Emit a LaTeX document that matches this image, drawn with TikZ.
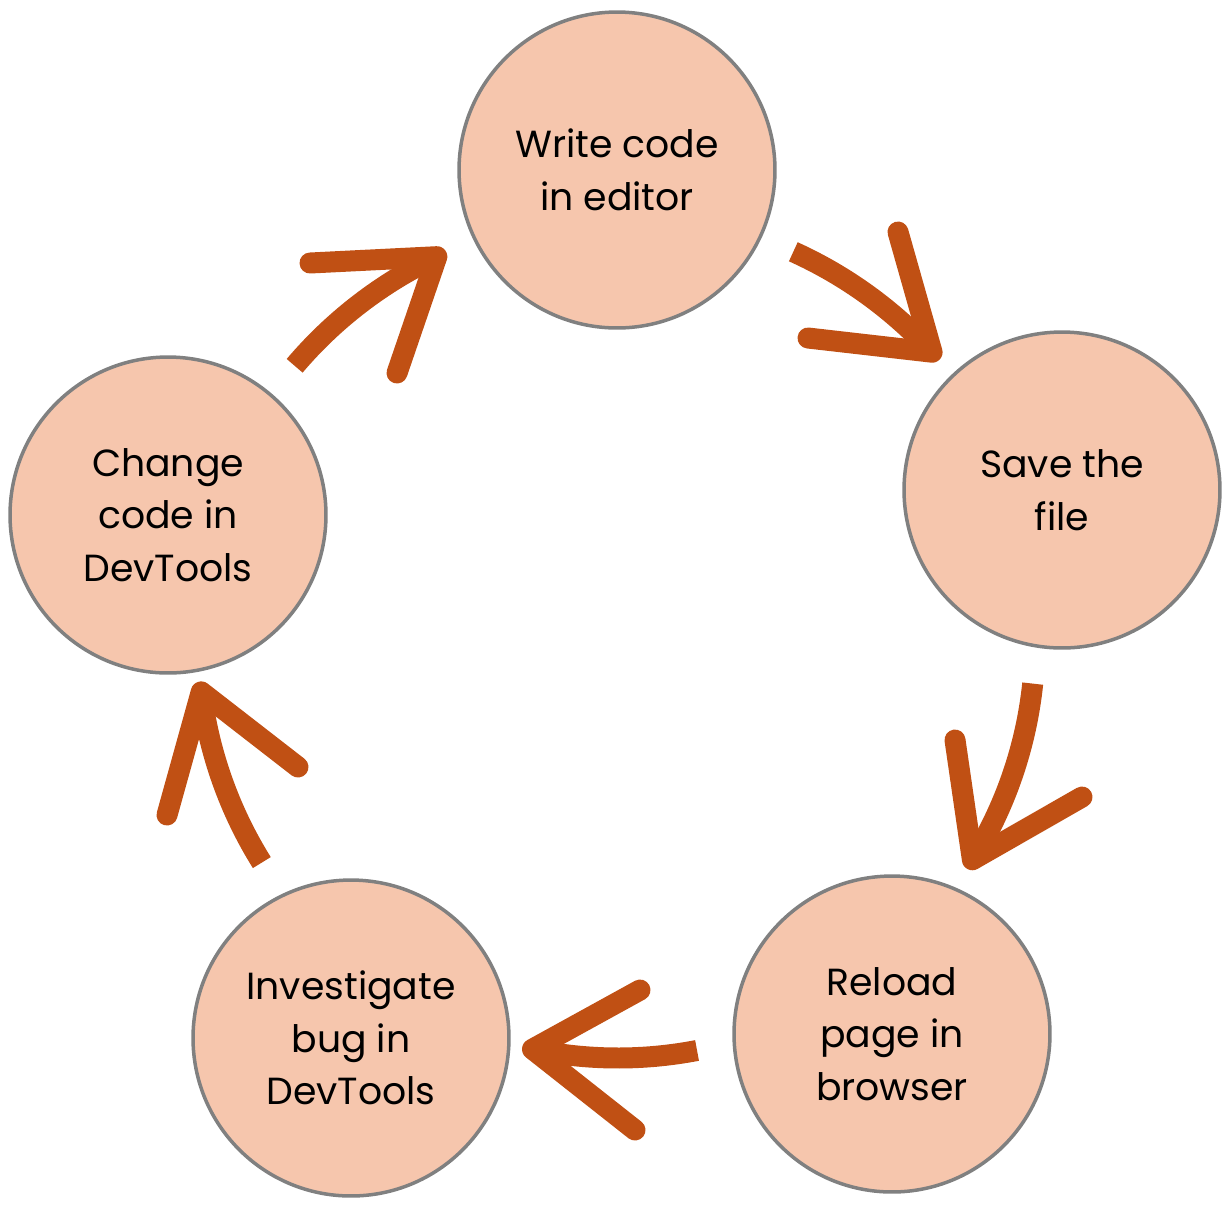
\documentclass[tikz,border=0pt]{standalone}
\usepackage{fontspec}
\setmainfont{Poppins}
\usetikzlibrary{calc}
\definecolor{arrowc}{RGB}{192,80,20}
\definecolor{fillc}{RGB}{246,198,173}
\definecolor{linec}{RGB}{128,128,128}
\begin{document}
\begin{tikzpicture}[x=0.02cm,y=-0.02cm,
  stage/.style={circle, draw=linec, fill=fillc, line width=0.07cm, minimum size=6.32cm,
    inner sep=0pt, align=center, font=\fontsize{21.5}{30}\selectfont},
  body/.style={draw=arrowc, line width=0.42cm, line cap=butt},
  head/.style={draw=arrowc, line width=0.42cm, line cap=round, line join=round}]
\useasboundingbox (0,0) rectangle (1230,1205);
\coordinate (C) at (618,640);
\node[stage] (write) at (617,170) {Write code\\in editor};
\node[stage] (save) at (1062,490) {Save the\\file};
\node[stage] (reload) at (892,1034) {Reload\\page in\\browser};
\node[stage] (invest) at (351,1038) {Investigate\\bug in\\DevTools};
\node[stage] (change) at (168,515) {Change\\code in\\DevTools};
% arrow 1
\coordinate (S1) at ($(C)+(-65.7:426)$);
\draw[body] (S1) arc[start angle=-65.7, end angle=-42.5, radius=426] coordinate (T1);
\coordinate (A1a) at (898,232); \coordinate (A1b) at (808,338);
\draw[head] (A1a) -- (T1) -- (A1b);
% arrow 2
\coordinate (S2) at ($(C)+(6.0:417)$);
\draw[body] (S2) arc[start angle=6.0, end angle=31.8, radius=417] coordinate (T2);
\coordinate (A2a) at (955,740); \coordinate (A2b) at (1082,797);
\draw[head] (A2a) -- (T2) -- (A2b);
% arrow 3
\coordinate (S3) at ($(C)+(79.1:418)$);
\draw[body] (S3) arc[start angle=79.1, end angle=101.8, radius=418] coordinate (T3);
\coordinate (A3a) at (640,990); \coordinate (A3b) at (635,1130);
\draw[head] (A3a) -- (T3) -- (A3b);
% arrow 4
\coordinate (S4) at ($(C)+(148:420)$);
\draw[body] (S4) arc[start angle=148, end angle=172.9, radius=420] coordinate (T4);
\coordinate (A4a) at (167,815); \coordinate (A4b) at (298,767);
\draw[head] (A4a) -- (T4) -- (A4b);
% arrow 5
\coordinate (S5) at ($(C)+(220.3:424)$);
\draw[body] (S5) arc[start angle=220.3, end angle=244.7, radius=424] coordinate (T5);
\coordinate (A5a) at (310,263); \coordinate (A5b) at (397,373);
\draw[head] (A5a) -- (T5) -- (A5b);
\end{tikzpicture}
\end{document}
